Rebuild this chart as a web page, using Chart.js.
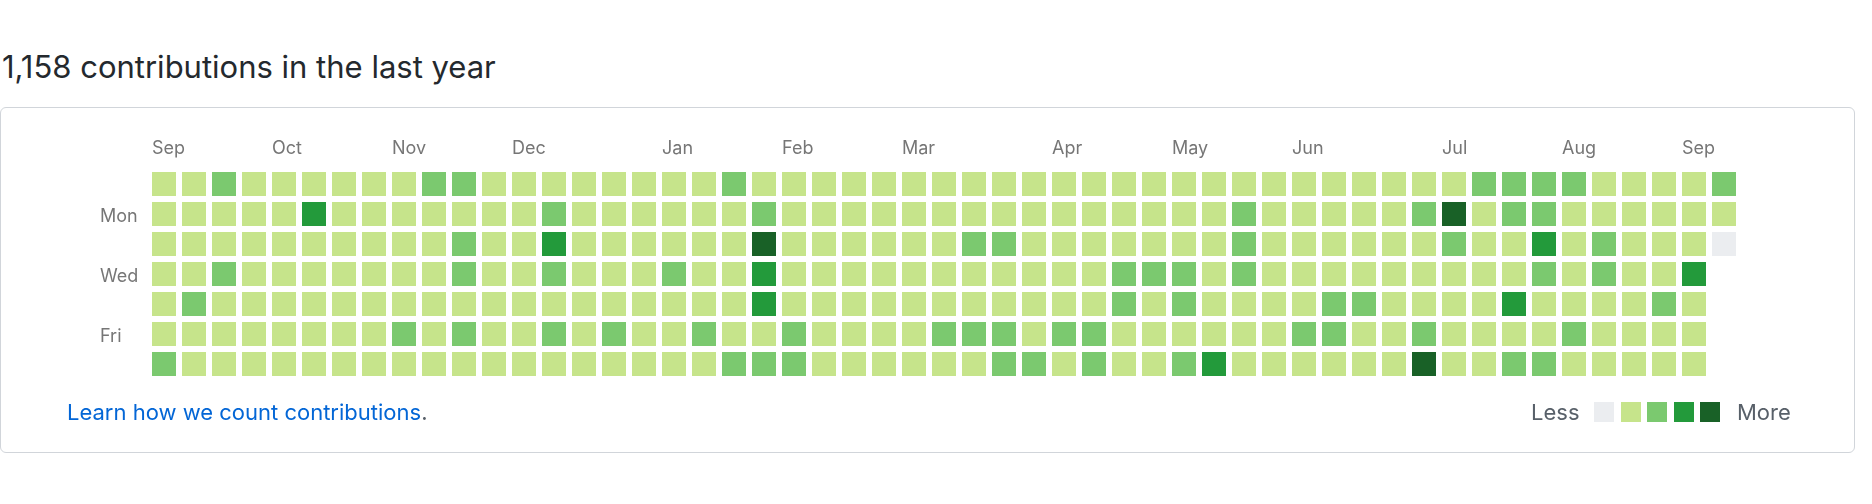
<!DOCTYPE html>
<html>
<head>
<meta charset="utf-8">
<title>Contributions</title>
<script src="https://cdn.jsdelivr.net/npm/chart.js@4.4.1/dist/chart.umd.min.js"></script>
<style>
  body { margin: 0; background: #fff; font-family: Inter, "Liberation Sans", sans-serif; }
  .page { position: relative; width: 1872px; height: 504px; overflow: hidden; }
  .title { position: absolute; left: 2px; top: 51px; font-size: 31px; line-height: 31px; color: #24292e; white-space: nowrap; }
  .box { position: absolute; left: 0; top: 107px; width: 1855px; height: 346px; box-sizing: border-box;
         border: 1px solid #d1d5da; border-radius: 6px; }
  #cal { position: absolute; left: 0; top: 0; pointer-events: none; }
  .learn { position: absolute; left: 67px; top: 401px; font-size: 22px; line-height: 22px; color: #586069; white-space: nowrap; }
  .learn a { color: #0366d6; text-decoration: none; }
  .legend { position: absolute; top: 401px; font-size: 22px; line-height: 22px; color: #586069; }
  .sq { position: absolute; top: 402px; width: 20px; height: 20px; }
</style>
</head>
<body>
<div class="page">
  <div class="title">1,158 contributions in the last year</div>
  <div class="box"></div>
  <canvas id="cal" width="1872" height="504"></canvas>
  <div class="learn"><a href="#">Learn how we count contributions</a>.</div>
  <div class="legend" style="left:1531px">Less</div>
  <div id="legendSquares"></div>
  <div class="legend" style="left:1737px">More</div>
</div>
<script>
// contribution level per day (0 = none .. 4 = most), one array per weekday, one entry per week
const sun = [1,1,2,1,1,1,1,1,1,2, 2,1,1,1,1,1,1,1,1,2, 1,1,1,1,1,1,1,1,1,1, 1,1,1,1,1,1,1,1,1,1, 1,1,1,1,2,2,2,2,1,1, 1,1,2];
const mon = [1,1,1,1,1,3,1,1,1,1, 1,1,1,2,1,1,1,1,1,1, 2,1,1,1,1,1,1,1,1,1, 1,1,1,1,1,1,2,1,1,1, 1,1,2,4,1,2,2,1,1,1, 1,1,1];
const tue = [1,1,1,1,1,1,1,1,1,1, 2,1,1,3,1,1,1,1,1,1, 4,1,1,1,1,1,1,2,2,1, 1,1,1,1,1,1,2,1,1,1, 1,1,1,2,1,1,3,1,2,1, 1,1,0];
const wed = [1,1,2,1,1,1,1,1,1,1, 2,1,1,2,1,1,1,2,1,1, 3,1,1,1,1,1,1,1,1,1, 1,1,2,2,2,1,2,1,1,1, 1,1,1,1,1,1,2,1,2,1, 1,3];
const thu = [1,2,1,1,1,1,1,1,1,1, 1,1,1,1,1,1,1,1,1,1, 3,1,1,1,1,1,1,1,1,1, 1,1,2,1,2,1,1,1,1,2, 2,1,1,1,1,3,1,1,1,1, 2,1];
const fri = [1,1,1,1,1,1,1,1,2,1, 2,1,1,2,1,2,1,1,2,1, 1,2,1,1,1,1,2,2,2,1, 2,2,1,1,1,1,1,1,2,2, 1,1,2,1,1,1,1,2,1,1, 1,1];
const sat = [2,1,1,1,1,1,1,1,1,1, 1,1,1,1,1,1,1,1,1,2, 2,2,1,1,1,1,1,1,2,2, 1,2,1,1,2,3,1,1,1,1, 1,1,4,1,1,2,2,1,1,1, 1,1];

const monthLabels = ['Sep','Oct','Nov','Dec','Jan','Feb','Mar','Apr','May','Jun','Jul','Aug','Sep'];
const monthWeeks  = [0, 4, 8, 12, 17, 21, 25, 30, 34, 38, 43, 47, 51];
const dayLabels = ['', 'Mon', '', 'Wed', '', 'Fri', ''];
const levelColors = ['#ebedf0', '#c6e48b', '#7bc96f', '#239a3b', '#196127'];

const rows = [sun, mon, tue, wed, thu, fri, sat];
const cells = [];
rows.forEach((row, r) => row.forEach((v, c) => cells.push({ x: c, y: r, v: v })));

// legend squares
const legendLeft = [1594, 1621, 1647, 1674, 1700];
levelColors.forEach((col, i) => {
  const d = document.createElement('div');
  d.className = 'sq';
  d.style.left = legendLeft[i] + 'px';
  d.style.background = col;
  document.getElementById('legendSquares').appendChild(d);
});

// month + weekday labels, placed with the chart's scales
const calendarLabels = {
  id: 'calendarLabels',
  afterDraw(chart) {
    const { ctx, scales: { x, y } } = chart;
    ctx.save();
    ctx.font = '18px Inter, "Liberation Sans", sans-serif';
    ctx.fillStyle = '#767676';
    ctx.textAlign = 'left';
    ctx.textBaseline = 'alphabetic';
    monthLabels.forEach((m, i) => {
      ctx.fillText(m, x.getPixelForValue(monthWeeks[i]) - 12, y.getPixelForValue(-1));
    });
    dayLabels.forEach((d, i) => {
      if (d) ctx.fillText(d, x.getPixelForValue(0) - 64, y.getPixelForValue(i) + 8);
    });
    ctx.restore();
  }
};

const cellColor = c => c.raw ? levelColors[c.raw.v] : levelColors[1];

new Chart(document.getElementById('cal'), {
  type: 'scatter',
  data: {
    datasets: [{
      data: cells,
      pointStyle: 'rect',
      pointRadius: 12 * Math.SQRT2,
      pointHoverRadius: 12 * Math.SQRT2,
      pointBorderWidth: 0,
      pointHoverBorderWidth: 0,
      pointBackgroundColor: cellColor,
      pointHoverBackgroundColor: cellColor
    }]
  },
  options: {
    responsive: false,
    animation: false,
    events: [],
    layout: { padding: { left: 149, right: 133, top: 169, bottom: 125 } },
    plugins: { legend: { display: false }, tooltip: { enabled: false } },
    scales: {
      x: { type: 'linear', min: -0.5, max: 52.5, display: false },
      y: { type: 'linear', min: -0.5, max: 6.5, reverse: true, display: false }
    }
  },
  plugins: [calendarLabels]
});
</script>
</body>
</html>
